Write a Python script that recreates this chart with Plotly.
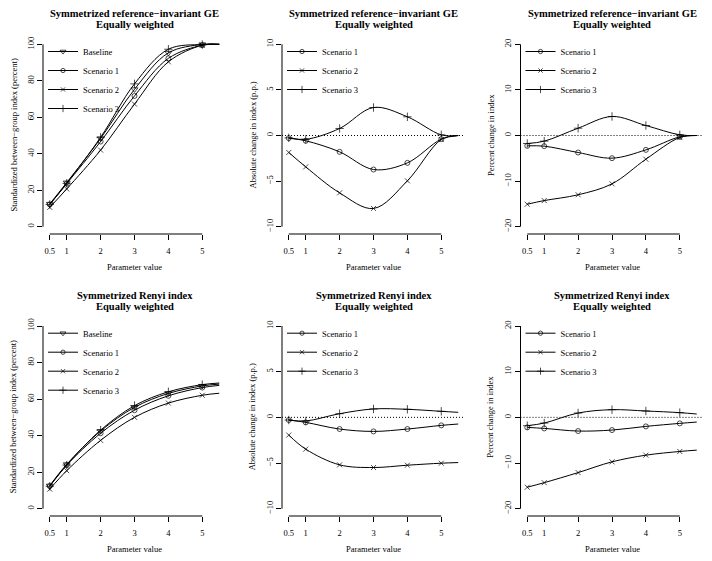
import plotly.graph_objects as go

# ---------------- data ----------------
x_params = [0.5, 1, 2, 3, 4, 5, 5.5]
x_ticks = [0.5, 1, 2, 3, 4, 5]
x_ticklabels = ["0.5", "1", "2", "3", "4", "5"]

series_names = ["Baseline", "Scenario 1", "Scenario 2", "Scenario 3"]

# Symmetrized reference-invariant GE: standardized between-group index (percent)
ge_baseline = [12.5, 24.2, 48.4, 75.3, 95.3, 99.9, 100.0]
ge_s1 = [12.2, 23.6, 46.7, 71.7, 92.3, 99.5, 100.0]
ge_s2 = [10.6, 20.7, 42.0, 67.2, 90.4, 99.5, 100.0]
ge_s3 = [12.2, 23.8, 49.0, 78.3, 97.3, 99.9, 100.0]
# absolute change (p.p.)
ge_abs_s1 = [-0.29, -0.58, -1.79, -3.73, -3.0, -0.4, 0.0]
ge_abs_s2 = [-1.86, -3.44, -6.29, -8.0, -4.97, -0.44, 0.0]
ge_abs_s3 = [-0.26, -0.42, 0.77, 3.07, 2.05, 0.07, 0.0]
# percent change
ge_pct_s1 = [-2.27, -2.34, -3.73, -4.97, -3.15, -0.3, 0.0]
ge_pct_s2 = [-15.07, -14.27, -13.0, -10.6, -5.2, -0.44, 0.0]
ge_pct_s3 = [-1.76, -1.24, 1.6, 4.17, 2.19, 0.15, 0.0]

# Symmetrized Renyi index
ry_baseline = [12.6, 24.3, 42.5, 55.5, 63.1, 67.2, 68.2]
ry_s1 = [12.4, 23.8, 41.3, 53.9, 61.8, 66.3, 67.5]
ry_s2 = [10.7, 20.8, 37.4, 50.0, 57.8, 62.1, 63.2]
ry_s3 = [12.3, 23.9, 43.0, 56.4, 64.0, 67.9, 68.8]
ry_abs_s1 = [-0.29, -0.55, -1.28, -1.54, -1.28, -0.88, -0.73]
ry_abs_s2 = [-1.94, -3.48, -5.2, -5.49, -5.24, -5.02, -4.95]
ry_abs_s3 = [-0.29, -0.4, 0.4, 0.92, 0.88, 0.66, 0.55]
ry_pct_s1 = [-2.2, -2.42, -3.0, -2.78, -1.98, -1.32, -1.03]
ry_pct_s2 = [-15.3, -14.3, -12.1, -9.74, -8.28, -7.47, -7.18]
ry_pct_s3 = [-1.83, -1.25, 0.95, 1.68, 1.39, 1.03, 0.73]

title_line1 = ["Symmetrized reference\u2212invariant GE"] * 3 + ["Symmetrized Renyi index"] * 3
title_line2 = "Equally weighted"
y_titles = ["Standardized between\u2212group index (percent)",
            "Absolute change in index (p.p.)",
            "Percent change in index"] * 2
x_title = "Parameter value"

level_ticks = [0, 20, 40, 60, 80, 100]
abs_ticks = [-10, -5, 0, 5, 10]
pct_ticks = [-20, -10, 0, 10, 20]

panels = [
    (["Baseline", "Scenario 1", "Scenario 2", "Scenario 3"], [ge_baseline, ge_s1, ge_s2, ge_s3], level_ticks, False),
    (["Scenario 1", "Scenario 2", "Scenario 3"], [ge_abs_s1, ge_abs_s2, ge_abs_s3], abs_ticks, True),
    (["Scenario 1", "Scenario 2", "Scenario 3"], [ge_pct_s1, ge_pct_s2, ge_pct_s3], pct_ticks, True),
    (["Baseline", "Scenario 1", "Scenario 2", "Scenario 3"], [ry_baseline, ry_s1, ry_s2, ry_s3], level_ticks, False),
    (["Scenario 1", "Scenario 2", "Scenario 3"], [ry_abs_s1, ry_abs_s2, ry_abs_s3], abs_ticks, True),
    (["Scenario 1", "Scenario 2", "Scenario 3"], [ry_pct_s1, ry_pct_s2, ry_pct_s3], pct_ticks, True),
]

symbols = {"Baseline": "triangle-down-open", "Scenario 1": "circle-open",
           "Scenario 2": "x-thin-open", "Scenario 3": "cross-thin-open"}
msizes = {"Baseline": 6, "Scenario 1": 5, "Scenario 2": 5, "Scenario 3": 6}

# ---------------- layout geometry ----------------
W, H = 712, 561
col_px = [(43, 226), (282, 465), (520.5, 703.5)]
row_px = [(37, 234), (318.7, 516)]
FONT = "Liberation Serif"

fig = go.Figure()
layout = dict(width=W, height=H, margin=dict(l=0, r=0, t=0, b=0),
              paper_bgcolor="white", plot_bgcolor="white",
              font=dict(family=FONT, color="black", size=8.5),
              showlegend=True)
shapes = []
annotations = []

for i, (names, ys, yticks, zero_line) in enumerate(panels):
    r, c = divmod(i, 3)
    n = i + 1
    xa = "x" if n == 1 else f"x{n}"
    ya = "y" if n == 1 else f"y{n}"
    xkey = "xaxis" if n == 1 else f"xaxis{n}"
    ykey = "yaxis" if n == 1 else f"yaxis{n}"
    lg = "legend" if n == 1 else f"legend{n}"
    x0p, x1p = col_px[c]
    y0p, y1p = row_px[r]
    xdom = [x0p / W, x1p / W]
    ydom = [1 - y1p / H, 1 - y0p / H]

    span = yticks[-1] - yticks[0]
    yr = [yticks[0] - 0.04 * span, yticks[-1] + 0.04 * span]
    xspan = x_params[-1] - x_params[0]
    xr = [x_params[0] - 0.04 * xspan, x_params[-1] + 0.04 * xspan]

    layout[xkey] = dict(domain=xdom, anchor=ya, range=xr, showgrid=False, zeroline=False,
                        showline=False, ticks="outside", ticklen=5, tickwidth=1, tickcolor="black",
                        tickvals=x_ticks, ticktext=x_ticklabels, tickfont=dict(size=8.5),
                        ticklabelstandoff=4, fixedrange=True)
    layout[ykey] = dict(domain=ydom, anchor=xa, range=yr, showgrid=False, zeroline=False,
                        showline=False, ticks="outside", ticklen=5, tickwidth=1, tickcolor="black",
                        tickvals=yticks, tickangle=-90, tickfont=dict(size=8.5), fixedrange=True)

    # R-style axis lines spanning first to last tick
    shapes.append(dict(type="line", xref=xa, yref=f"{ya} domain", x0=x_ticks[0], x1=x_ticks[-1],
                       y0=0, y1=0, line=dict(color="black", width=1)))
    shapes.append(dict(type="line", xref=f"{xa} domain", yref=ya, x0=0, x1=0,
                       y0=yticks[0], y1=yticks[-1], line=dict(color="black", width=1)))
    if zero_line:
        shapes.append(dict(type="line", xref=f"{xa} domain", yref=ya, x0=0, x1=1, y0=0, y1=0,
                           line=dict(color="black", width=1, dash="1px,2px")))

    for name, y in zip(names, ys):
        sizes = [msizes[name]] * (len(x_params) - 1) + [0]
        fig.add_trace(go.Scatter(
            x=x_params, y=y, name=name, mode="lines+markers",
            line=dict(color="black", width=1, shape="spline", smoothing=1.0),
            marker=dict(symbol=symbols[name], size=sizes, color="black",
                        line=dict(color="black", width=1)),
            xaxis=xa, yaxis=ya, legend=lg))

    layout[lg] = dict(x=xdom[0], y=ydom[1], xanchor="left", yanchor="top",
                      bgcolor="rgba(0,0,0,0)", borderwidth=0,
                      font=dict(size=8.5, family=FONT), itemwidth=30,
                      tracegroupgap=0)

    annotations.append(dict(text=f"<b>{title_line1[i]}</b>", xref=f"{xa} domain", yref=f"{ya} domain",
                            x=0.5, y=1, yshift=23.5, showarrow=False, xanchor="center", yanchor="middle",
                            font=dict(size=10.5, family=FONT)))
    annotations.append(dict(text=f"<b>{title_line2}</b>", xref=f"{xa} domain", yref=f"{ya} domain",
                            x=0.5, y=1, yshift=12.5, showarrow=False, xanchor="center", yanchor="middle",
                            font=dict(size=10.5, family=FONT)))
    annotations.append(dict(text=x_title, xref=f"{xa} domain", yref=f"{ya} domain",
                            x=0.5, y=0, yshift=-33, showarrow=False, xanchor="center", yanchor="middle",
                            font=dict(size=8.5, family=FONT)))
    annotations.append(dict(text=y_titles[i], xref=f"{xa} domain", yref=f"{ya} domain",
                            x=0, y=0.5, xshift=-30, textangle=-90, showarrow=False,
                            xanchor="center", yanchor="middle", font=dict(size=8.5, family=FONT)))

layout["shapes"] = shapes
layout["annotations"] = annotations
fig.update_layout(**layout)
fig.write_html("out.html", config={"displayModeBar": False},
               post_script="document.body.style.margin='0px';document.body.style.padding='0px';")
